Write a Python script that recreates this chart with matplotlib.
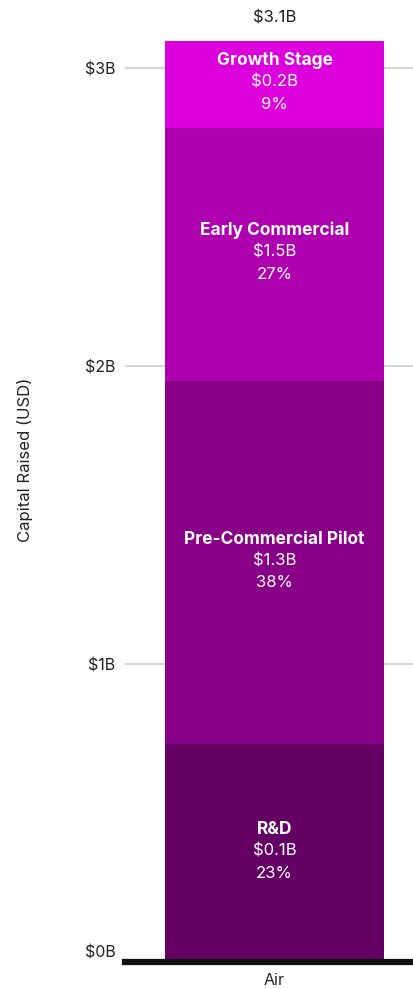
import matplotlib
matplotlib.use('Agg')
import matplotlib.pyplot as plt
import matplotlib.transforms as mtransforms

# data (segment heights in $B, bottom to top)
stages = ['R&D', 'Pre-Commercial Pilot', 'Early Commercial', 'Growth Stage']
heights = [0.73, 1.22, 0.85, 0.29]
value_labels = ['$0.1B', '$1.3B', '$1.5B', '$0.2B']
pct_labels = ['23%', '38%', '27%', '9%']
colors = ['#640064', '#880088', '#ae00ae', '#dc00dc']
category = 'Air'
total_label = '$3.1B'
yticks = [0, 1, 2, 3]
ytick_labels = ['$0B', '$1B', '$2B', '$3B']

plt.rcParams['font.family'] = ['Inter', 'DejaVu Sans']

fig = plt.figure(figsize=(4.14, 9.89), dpi=100)
ax = fig.add_axes([0.302, 0.0273, 0.698, 0.9642])

bottom = 0
for h, name, val, pct, c in zip(heights, stages, value_labels, pct_labels, colors):
    ax.bar(0, h, width=0.6, bottom=bottom, color=c, zorder=2)
    mid = bottom + h / 2
    ax.annotate(name, (0, mid), xytext=(0, 17), textcoords='offset points',
                ha='center', va='center', color='white', fontsize=12.5, fontweight='bold')
    ax.annotate(val, (0, mid), xytext=(0, 1.5), textcoords='offset points',
                ha='center', va='center', color='white', fontsize=12)
    ax.annotate(pct, (0, mid), xytext=(0, -14.5), textcoords='offset points',
                ha='center', va='center', color='white', fontsize=12)
    bottom += h

ax.annotate(total_label, (0, bottom), xytext=(0, 17), textcoords='offset points',
            ha='center', va='center', color='#222222', fontsize=12)

ax.set_xlim(-0.4096, 0.382)
ax.set_ylim(0, 3.2)
ax.set_yticks(yticks)
ax.set_yticklabels(ytick_labels, fontsize=11.5, color='#222222')
ax.set_xticks([0])
ax.set_xticklabels([category], fontsize=11.5, color='#222222')
ax.tick_params(axis='y', length=0, pad=7)
ax.tick_params(axis='x', length=0, pad=8)
ax.grid(axis='y', color='#cccccc', linewidth=1.2, zorder=0)
for s in ax.spines.values():
    s.set_visible(False)
ax.axhline(0, color='#111111', linewidth=4.5, zorder=3, clip_on=False)

# the $0B label sits a little above the baseline
lbl0 = ax.get_yticklabels()[0]
lbl0.set_transform(lbl0.get_transform() + mtransforms.ScaledTranslation(0, 0.11, fig.dpi_scale_trans))

fig.text(0.06, 0.535, 'Capital Raised (USD)', rotation=90, ha='center', va='center',
         fontsize=12, color='#222222')

fig.savefig('out.png', dpi=100)
